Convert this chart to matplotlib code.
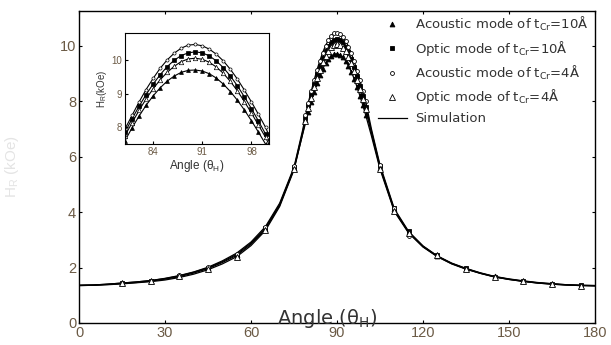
import numpy as np
import matplotlib
matplotlib.use("Agg")
import matplotlib.pyplot as plt

plt.rcParams['font.family'] = ['Liberation Sans', 'DejaVu Sans']
plt.rcParams['mathtext.default'] = 'regular'

# simulation curves, H_R (kOe) vs field angle (deg)
sim_angles = [0, 5, 10, 15, 20, 25, 30, 35, 40, 45, 50, 55, 60, 65, 70, 75, 78,
              80, 81, 82, 83, 84, 85, 86, 87, 88, 89, 90, 91, 92, 93, 94, 95, 96, 97, 98, 99, 100,
              102, 105, 110, 115, 120, 125, 130, 135, 140, 145, 150, 155, 160, 165, 170, 175, 180]

sim_ac4 = [1.36, 1.37, 1.40, 1.44, 1.48, 1.53, 1.61, 1.71, 1.84, 2.01, 2.24, 2.52, 2.92, 3.47, 4.32, 5.62, 6.95,
           7.95, 8.35, 8.75, 9.12, 9.45, 9.75, 10.0, 10.2, 10.35, 10.44, 10.46, 10.42, 10.32, 10.17, 9.97, 9.72, 9.43, 9.1, 8.75, 8.38, 8.0,
           7.0, 5.7, 4.12, 3.3, 2.78, 2.42, 2.16, 1.97, 1.81, 1.68, 1.59, 1.52, 1.46, 1.42, 1.38, 1.36, 1.35]

sim_op10 = [1.36, 1.37, 1.40, 1.44, 1.48, 1.53, 1.60, 1.70, 1.83, 1.99, 2.21, 2.48, 2.88, 3.42, 4.28, 5.58, 6.88,
            7.85, 8.25, 8.62, 8.97, 9.28, 9.56, 9.8, 9.99, 10.13, 10.21, 10.24, 10.21, 10.12, 9.97, 9.77, 9.52, 9.23, 8.9, 8.55, 8.18, 7.8,
            6.92, 5.65, 4.08, 3.28, 2.77, 2.41, 2.15, 1.96, 1.80, 1.67, 1.58, 1.51, 1.45, 1.41, 1.38, 1.36, 1.35]

sim_op4 = [1.35, 1.36, 1.38, 1.41, 1.45, 1.49, 1.55, 1.64, 1.76, 1.92, 2.13, 2.39, 2.79, 3.33, 4.2, 5.52, 6.82,
           7.75, 8.13, 8.5, 8.84, 9.14, 9.41, 9.63, 9.81, 9.95, 10.03, 10.05, 10.02, 9.93, 9.79, 9.6, 9.36, 9.08, 8.76, 8.42, 8.06, 7.7,
           6.85, 5.6, 4.05, 3.26, 2.75, 2.4, 2.14, 1.95, 1.79, 1.66, 1.57, 1.5, 1.44, 1.4, 1.37, 1.35, 1.34]

sim_ac10 = [1.35, 1.36, 1.39, 1.42, 1.46, 1.51, 1.58, 1.67, 1.8, 1.96, 2.18, 2.44, 2.84, 3.38, 4.24, 5.55, 6.8,
            7.6, 7.98, 8.33, 8.65, 8.93, 9.17, 9.37, 9.52, 9.63, 9.69, 9.7, 9.67, 9.59, 9.46, 9.28, 9.06, 8.8, 8.51, 8.19, 7.85, 7.5,
            6.75, 5.55, 4.02, 3.24, 2.74, 2.39, 2.13, 1.94, 1.79, 1.66, 1.57, 1.5, 1.44, 1.4, 1.37, 1.35, 1.34]

# measured points away from the peak
meas_angles = [15, 25, 35, 45, 55, 65, 75, 79, 105, 110, 115, 125, 135, 145, 155, 165, 175]
meas_ac10 = [1.44, 1.51, 1.69, 1.98, 2.44, 3.38, 5.6, 7.33, 5.6, 4.1, 3.28, 2.42, 1.96, 1.68, 1.52, 1.42, 1.35]
meas_op10 = [1.45, 1.52, 1.70, 1.99, 2.46, 3.42, 5.62, 7.4, 5.65, 4.15, 3.3, 2.44, 1.97, 1.67, 1.53, 1.42, 1.36]
meas_ac4 = [1.43, 1.53, 1.72, 2.02, 2.5, 3.45, 5.65, 7.5, 5.7, 4.15, 3.15, 2.4, 1.95, 1.66, 1.5, 1.41, 1.34]
meas_op4 = [1.44, 1.52, 1.68, 1.95, 2.38, 3.35, 5.55, 7.3, 5.55, 4.05, 3.25, 2.45, 1.96, 1.67, 1.52, 1.42, 1.35]

x_ticks = [0, 30, 60, 90, 120, 150, 180]
y_ticks = [0, 2, 4, 6, 8, 10]
inset_x_ticks = [84, 91, 98]
inset_y_ticks = [8, 9, 10]

labels = [r'Acoustic mode of t$_{Cr}$=10Å', r'Optic mode of t$_{Cr}$=10Å',
          r'Acoustic mode of t$_{Cr}$=4Å', r'Optic mode of t$_{Cr}$=4Å']
sims = [sim_ac10, sim_op10, sim_ac4, sim_op4]
meas = [meas_ac10, meas_op10, meas_ac4, meas_op4]
styles = [dict(marker='^', mfc='black', ms=3.5),
          dict(marker='s', mfc='black', ms=3.0),
          dict(marker='o', mfc='white', ms=2.8),
          dict(marker='^', mfc='white', ms=4.0)]

tick_color = '#6b5a45'

fig = plt.figure(figsize=(6.11, 3.45), dpi=100)
ax = fig.add_axes([0.1293, 0.0638, 0.8445, 0.9043])

sa = np.array(sim_angles)
peak = (sa >= 80) & (sa <= 100)

handles = []
for sim, mv, st, lab in zip(sims, meas, styles, labels):
    ax.plot(sim_angles, sim, color='black', lw=0.9, zorder=2)
    # markers: sparse measurements on the wings, dense near the peak
    ax.plot(meas_angles, mv, ls='none', mec='black', mew=0.6, zorder=3, **st)
    ax.plot(sa[peak], np.array(sim)[peak], ls='none', mec='black', mew=0.6, zorder=3, **st)
    h, = ax.plot([], [], ls='none', mec='black', mew=0.6, label=lab, **st)
    handles.append(h)
hs, = ax.plot([], [], color='black', lw=0.9, label='Simulation')
handles.append(hs)

ax.set_xlim(0, 180)
ax.set_ylim(0, 11.25)
ax.set_xticks(x_ticks)
ax.set_yticks(y_ticks)
ax.tick_params(direction='in', length=2.5, width=0.8, top=True, right=True,
               labelsize=10.5, labelcolor=tick_color, pad=2)
for s in ax.spines.values():
    s.set_linewidth(1.0)

ax.text(0.48, 0.015, r'Angle (θ$_H$)', transform=ax.transAxes, ha='center', va='center',
        fontsize=14, family='DejaVu Sans', color='#333333', zorder=5)
ax.set_ylabel(r'H$_R$ (kOe)', fontsize=11, color='#e4e4e4', labelpad=28)

leg = ax.legend(handles=handles, loc='upper right', bbox_to_anchor=(1.0, 1.01),
                frameon=False, prop={'family': 'DejaVu Sans', 'size': 9.5},
                labelspacing=0.45, handlelength=2.2,
                handletextpad=0.6, borderaxespad=0.1)
for t in leg.get_texts():
    t.set_color('#333333')

# inset zoomed on the peak
ins = fig.add_axes([0.2046, 0.5826, 0.2357, 0.3217])
for sim, st in zip(sims, styles):
    ins.plot(sim_angles, sim, color='black', lw=0.8)
    ins.plot(sa[peak], np.array(sim)[peak], ls='none', mec='black', mew=0.5,
             **{**st, 'ms': st['ms'] * 0.8})
ins.set_xlim(80, 100.5)
ins.set_ylim(7.5, 10.8)
ins.set_xticks(inset_x_ticks)
ins.set_yticks(inset_y_ticks)
ins.tick_params(direction='in', length=2, labelsize=7, labelcolor=tick_color, pad=2)
ins.set_xlabel(r'Angle (θ$_H$)', fontsize=8.5, color='#333333', labelpad=1)
ins.set_ylabel(r'H$_R$(kOe)', fontsize=7, color='#333333', labelpad=2)

fig.savefig('out.png', dpi=100)
